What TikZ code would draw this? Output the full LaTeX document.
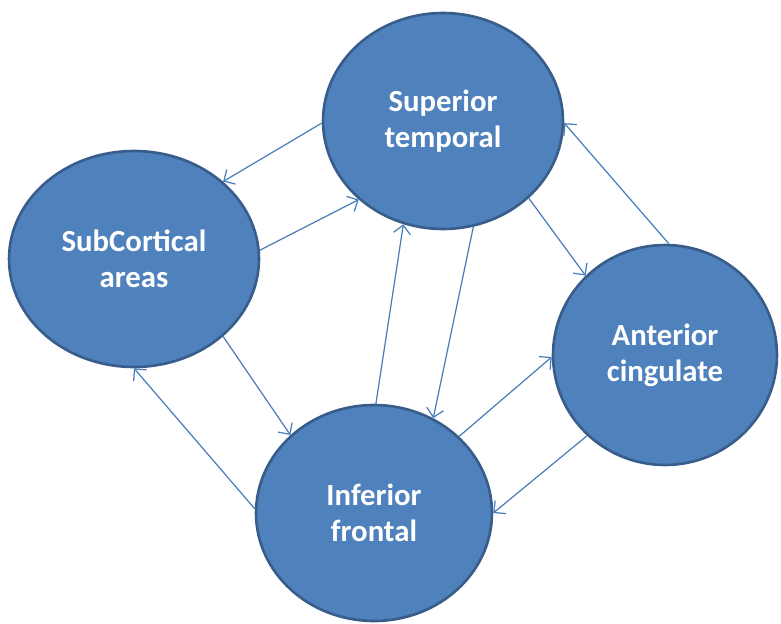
\documentclass[tikz,border=0pt]{standalone}
\usepackage{fontspec}
\setmainfont{Carlito}
\usepackage{xcolor}
\usepackage{tikz}
\usetikzlibrary{shapes.geometric,arrows.meta}

\definecolor{areafill}{HTML}{4F81BD}
\definecolor{areaedge}{HTML}{385D8A}
\definecolor{linkcol}{HTML}{4A7EBB}

\begin{document}
\begin{tikzpicture}[x=0.02cm, y=-0.02cm,
        region/.style={ellipse, fill=areafill, draw=areaedge, line width=1.5pt, inner sep=0pt,
            text=white, align=center, font=\bfseries\fontsize{17.5}{20.5}\selectfont},
        link/.style={draw=linkcol, line width=0.7pt, -{Straight Barb[length=1.7mm,width=3.4mm]}}]
        \useasboundingbox (0,0) rectangle (781,623);

        % Brain areas
        \node [region, minimum width=4.8cm, minimum height=4.32cm] (sup) at (443,121) {Superior\\temporal};
        \node [region, minimum width=5cm, minimum height=4.32cm] (sub) at (134,259) {SubCortical\\areas};
        \node [region, minimum width=4.48cm, minimum height=4.4cm] (ant) at (665,355) {Anterior\\cingulate};
        \node [region, minimum width=4.72cm, minimum height=4.32cm] (inf) at (374,513) {Inferior\\frontal};

        % Connections
        \draw [link] (sup.181) -- (sub.41);
        \draw [link] (sub.4) -- (sup.223);
        \draw [link] (sub.319) -- (inf.137);
        \draw [link] (inf.178) -- (sub.270);
        \draw [link] (inf.89) -- (sup.249);
        \draw [link] (sup.286) -- (inf.58);
        \draw [link] (sup.318) -- (ant.135);
        \draw [link] (ant.88) -- (sup.359);
        \draw [link] (inf.42) -- (ant.181);
        \draw [link] (ant.226) -- (inf.0);
    \end{tikzpicture}
\end{document}
